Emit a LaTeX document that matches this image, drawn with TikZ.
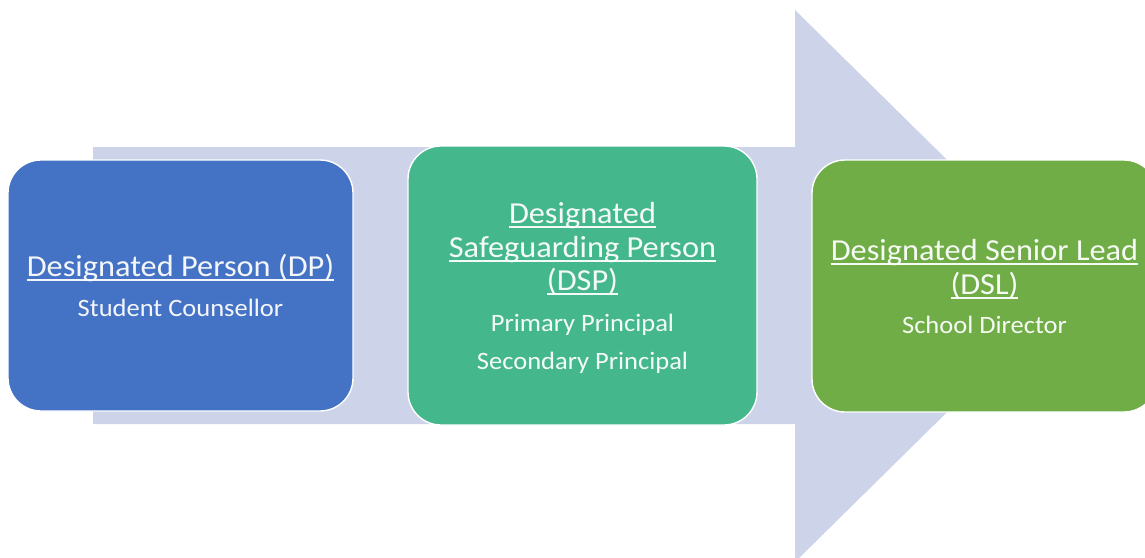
\documentclass[tikz,border=0pt]{standalone}
\usepackage{fontspec}
\setmainfont{Carlito}[FakeStretch=1.06]
\definecolor{arrowfill}{RGB}{205,212,234}
\definecolor{dpblue}{RGB}{68,114,196}
\definecolor{dspteal}{RGB}{69,183,140}
\definecolor{dslgreen}{RGB}{112,173,71}
% underlined heading text with a thin rule just below the baseline
\newcommand\headtext[1]{\setbox0\hbox{#1}\rlap{\rule[-0.15em]{\wd0}{0.055em}}\box0}
\tikzset{
  rolebox/.style={draw=white, line width=1.4pt, rounded corners=33pt},
  head/.style={anchor=base, inner sep=0pt, text=white, text opacity=0.94, font=\fontsize{30.5}{34}\selectfont},
  sub/.style={anchor=base, inner sep=0pt, text=white, text opacity=0.94, font=\fontsize{25}{30}\selectfont},
}
\begin{document}
\begin{tikzpicture}[x=1pt, y=-1pt]
\useasboundingbox (0,0) rectangle (1145,557);
% big block arrow in the background
\fill[arrowfill] (93,147) -- (795,147) -- (795,10) -- (1075,286)
  -- (795,562) -- (795,424) -- (93,424) -- cycle;
% role boxes
\draw[rolebox, fill=dpblue] (8,160) rectangle (353,411);
\draw[rolebox, fill=dspteal] (408,146) rectangle (757,425);
\draw[rolebox, fill=dslgreen] (812,160) rectangle (1157,412);
% Designated Person
\node[head] (dp) at (180.5,276.5) {\headtext{Designated Person (DP)}};
\node[sub] (dpsub) at (180.5,316.5) {Student Counsellor};
% Designated Safeguarding Person
\node[head] (dsp1) at (582.5,223.5) {\headtext{Designated}};
\node[head] (dsp2) at (582.5,257) {\headtext{Safeguarding Person}};
\node[head] (dsp3) at (582.5,290.5) {\headtext{(DSP)}};
\node[sub] (dspsub1) at (582.5,331.5) {Primary Principal};
\node[sub] (dspsub2) at (582.5,369) {Secondary Principal};
% Designated Senior Lead
\node[head] (dsl1) at (984.5,260) {\headtext{Designated Senior Lead}};
\node[head] (dsl2) at (984.5,294) {\headtext{(DSL)}};
\node[sub] (dslsub) at (984.5,333.5) {School Director};
\end{tikzpicture}
\end{document}
